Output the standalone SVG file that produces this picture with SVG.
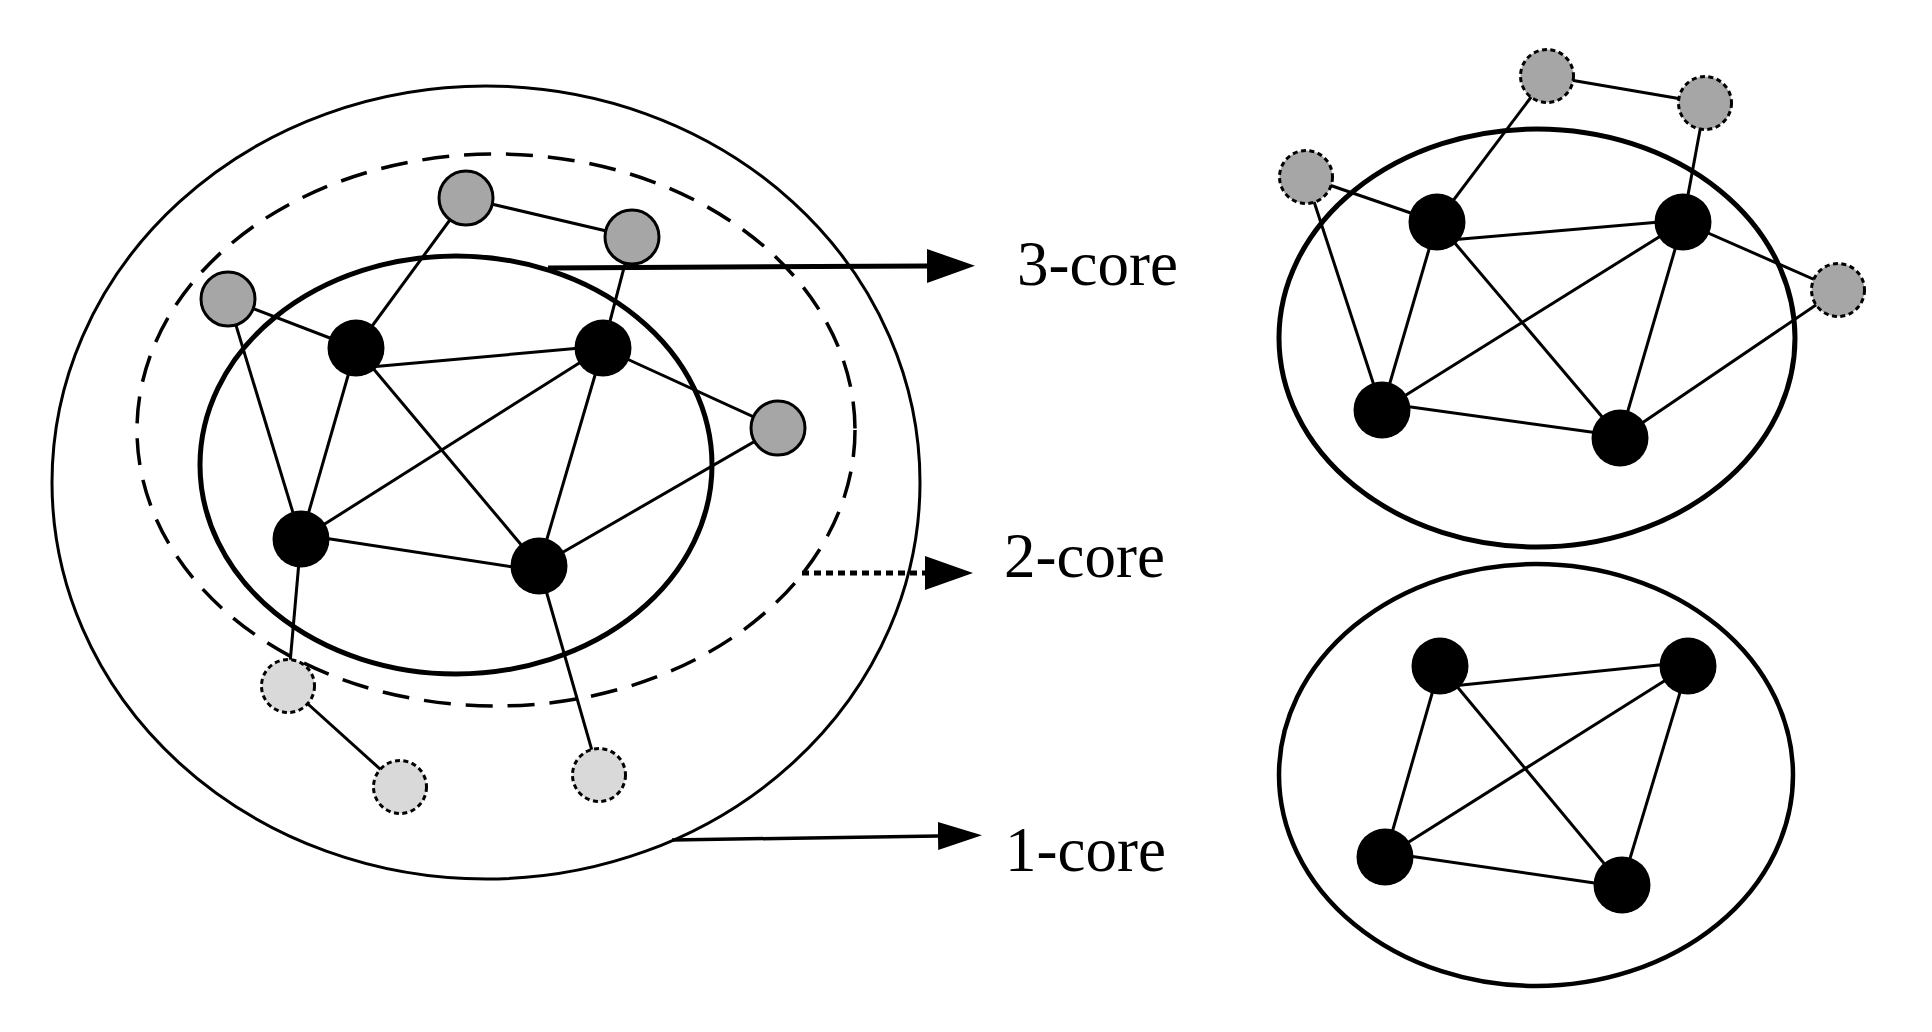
<svg xmlns="http://www.w3.org/2000/svg" width="1932" height="1032" viewBox="0 0 1932 1032">
  <style>
    .bg { fill: #ffffff; }
    .ring { fill: none; stroke: #000; }
    .edge { stroke: #000; stroke-width: 3; fill: none; }
    .core { fill: #000; }
    .shell2 { fill: #a6a6a6; stroke: #000; stroke-width: 3; }
    .shell2d { fill: #a6a6a6; stroke: #000; stroke-width: 3; stroke-dasharray: 5 3.5; }
    .shell1 { fill: #d9d9d9; stroke: #000; stroke-width: 3; stroke-dasharray: 5 3.5; }
    .label { font-family: "Liberation Serif", "Times New Roman", serif; font-size: 63px; fill: #000; }
  </style>
  <defs>
    <marker id="headL" markerUnits="userSpaceOnUse" markerWidth="50" markerHeight="36" refX="0" refY="17" orient="auto">
      <polygon points="0,0 48,17 0,34" fill="#000"/>
    </marker>
    <marker id="headS" markerUnits="userSpaceOnUse" markerWidth="46" markerHeight="30" refX="0" refY="14" orient="auto">
      <polygon points="0,0 44,14 0,28" fill="#000"/>
    </marker>
  </defs>
  <rect class="bg" x="0" y="0" width="1932" height="1032"/>

  <g id="core-rings">
    <ellipse class="ring" cx="486" cy="482.5" rx="434" ry="396.5" stroke-width="3"/>
    <ellipse class="ring" cx="496" cy="430" rx="359" ry="276" stroke-width="3.5" stroke-dasharray="27 15"/>
    <ellipse class="ring" cx="456" cy="465" rx="256" ry="209" stroke-width="5"/>
    <ellipse class="ring" cx="1537" cy="338" rx="258" ry="209" stroke-width="5"/>
    <ellipse class="ring" cx="1536" cy="775" rx="257" ry="211" stroke-width="4.5"/>
  </g>

  <g id="connectors">
    <!-- left graph -->
    <line class="edge" x1="466" y1="198" x2="632" y2="237"/>
    <line class="edge" x1="466" y1="198" x2="356" y2="348"/>
    <line class="edge" x1="632" y1="237" x2="603" y2="348"/>
    <line class="edge" x1="228" y1="299" x2="356" y2="348"/>
    <line class="edge" x1="228" y1="299" x2="301" y2="539"/>
    <line class="edge" x1="370" y1="367" x2="603" y2="346"/>
    <line class="edge" x1="356" y1="348" x2="301" y2="539"/>
    <line class="edge" x1="356" y1="348" x2="539" y2="566"/>
    <line class="edge" x1="603" y1="348" x2="301" y2="539"/>
    <line class="edge" x1="603" y1="348" x2="539" y2="566"/>
    <line class="edge" x1="603" y1="348" x2="778" y2="428"/>
    <line class="edge" x1="778" y1="428" x2="539" y2="566"/>
    <line class="edge" x1="301" y1="534.5" x2="539" y2="571"/>
    <line class="edge" x1="301" y1="539" x2="288" y2="686"/>
    <line class="edge" x1="288" y1="686" x2="400" y2="787"/>
    <line class="edge" x1="539" y1="566" x2="599" y2="775"/>
    <!-- right top graph -->
    <line class="edge" x1="1547" y1="76" x2="1705" y2="103"/>
    <line class="edge" x1="1547" y1="76" x2="1437" y2="222"/>
    <line class="edge" x1="1705" y1="103" x2="1683" y2="222"/>
    <line class="edge" x1="1306" y1="177" x2="1437" y2="222"/>
    <line class="edge" x1="1306" y1="177" x2="1382" y2="410"/>
    <line class="edge" x1="1450" y1="240" x2="1683" y2="220"/>
    <line class="edge" x1="1437" y1="222" x2="1382" y2="410"/>
    <line class="edge" x1="1437" y1="222" x2="1620" y2="438"/>
    <line class="edge" x1="1683" y1="222" x2="1382" y2="410"/>
    <line class="edge" x1="1683" y1="222" x2="1620" y2="438"/>
    <line class="edge" x1="1683" y1="222" x2="1838" y2="290"/>
    <line class="edge" x1="1838" y1="290" x2="1620" y2="438"/>
    <line class="edge" x1="1382" y1="403" x2="1620" y2="436"/>
    <!-- right bottom graph -->
    <line class="edge" x1="1452" y1="686" x2="1688" y2="662"/>
    <line class="edge" x1="1440" y1="666" x2="1385" y2="857"/>
    <line class="edge" x1="1440" y1="666" x2="1622" y2="885"/>
    <line class="edge" x1="1688" y1="666" x2="1385" y2="857"/>
    <line class="edge" x1="1688" y1="666" x2="1622" y2="885"/>
    <line class="edge" x1="1385" y1="852.5" x2="1622" y2="887"/>
    <!-- label arrows -->
    <line x1="548" y1="268" x2="927" y2="266" stroke="#000" stroke-width="5" marker-end="url(#headL)"/>
    <line x1="802" y1="573" x2="925" y2="573" stroke="#000" stroke-width="5" stroke-dasharray="7 5" marker-end="url(#headL)"/>
    <line x1="672" y1="840" x2="938" y2="836" stroke="#000" stroke-width="3.5" marker-end="url(#headS)"/>
  </g>

  <g id="n-g1"><circle class="shell2" cx="466" cy="198" r="27"/></g>
  <g id="n-g2"><circle class="shell2" cx="632" cy="237" r="27"/></g>
  <g id="n-g3"><circle class="shell2" cx="228" cy="299" r="27"/></g>
  <g id="n-g4"><circle class="shell2" cx="778" cy="428" r="27"/></g>
  <g id="n-b1"><circle class="core" cx="356" cy="348" r="28.5"/></g>
  <g id="n-b2"><circle class="core" cx="603" cy="348" r="28.5"/></g>
  <g id="n-b3"><circle class="core" cx="301" cy="539" r="28.5"/></g>
  <g id="n-b4"><circle class="core" cx="539" cy="566" r="28.5"/></g>
  <g id="n-l1"><circle class="shell1" cx="288" cy="686" r="26.5"/></g>
  <g id="n-l2"><circle class="shell1" cx="400" cy="787" r="26.5"/></g>
  <g id="n-l3"><circle class="shell1" cx="599" cy="775" r="26.5"/></g>

  <g id="n-rg1"><circle class="shell2d" cx="1547" cy="76" r="26.5"/></g>
  <g id="n-rg2"><circle class="shell2d" cx="1705" cy="103" r="26.5"/></g>
  <g id="n-rg3"><circle class="shell2d" cx="1306" cy="177" r="26.5"/></g>
  <g id="n-rg4"><circle class="shell2d" cx="1838" cy="290" r="26.5"/></g>
  <g id="n-rb1"><circle class="core" cx="1437" cy="222" r="28.5"/></g>
  <g id="n-rb2"><circle class="core" cx="1683" cy="222" r="28.5"/></g>
  <g id="n-rb3"><circle class="core" cx="1382" cy="410" r="28.5"/></g>
  <g id="n-rb4"><circle class="core" cx="1620" cy="438" r="28.5"/></g>

  <g id="n-kb1"><circle class="core" cx="1440" cy="666" r="28.5"/></g>
  <g id="n-kb2"><circle class="core" cx="1688" cy="666" r="28.5"/></g>
  <g id="n-kb3"><circle class="core" cx="1385" cy="857" r="28.5"/></g>
  <g id="n-kb4"><circle class="core" cx="1622" cy="885" r="28.5"/></g>

  <g id="label-3core"><text class="label" x="1017" y="285">3-core</text></g>
  <g id="label-2core"><text class="label" x="1004" y="577">2-core</text></g>
  <g id="label-1core"><text class="label" x="1005" y="871">1-core</text></g>
</svg>
